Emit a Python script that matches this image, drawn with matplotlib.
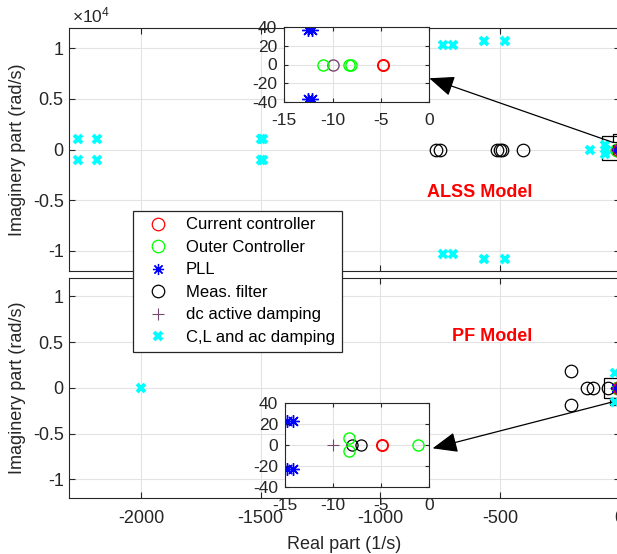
import matplotlib
matplotlib.use("Agg")
import matplotlib.pyplot as plt
from matplotlib.patches import Rectangle, ConnectionPatch
from matplotlib.lines import Line2D

plt.rcParams["font.family"] = ["Liberation Sans", "DejaVu Sans"]
plt.rcParams["axes.unicode_minus"] = False
plt.rcParams["mathtext.fontset"] = "custom"
plt.rcParams["mathtext.rm"] = "Liberation Sans"

# ---------------- eigenvalues, ALSS model (real 1/s, imag rad/s) ----------------
alss_cur_re = [-4.8]
alss_cur_im = [0.0]
alss_outer_re = [-11.0, -8.3, -8.1]
alss_outer_im = [0.0, 0.0, 0.0]
alss_pll_re = [-12.5, -12.5, -12.1, -12.1]
alss_pll_im = [37.5, -37.5, 37.5, -37.5]
alss_dc_re = [-10.0]
alss_dc_im = [0.0]
alss_meas_re = [-768, -751, -511, -501, -493, -404]
alss_meas_im = [0, 0, 0, 0, 0, 0]
alss_clac_re = [-2264, -2264, -2184, -2184, -1497, -1497, -1490, -1490,
                -738, -738, -698, -698, -565, -565, -480, -480,
                -122, -62, -62, -58]
alss_clac_im = [1040, -1040, 1040, -1040, 1080, -1080, 1030, -1030,
                10330, -10330, 10330, -10330, 10730, -10800, 10700, -10800,
                0, 450, -450, 0]

# ---------------- eigenvalues, PF model ----------------
pf_cur_re = [-4.9]
pf_cur_im = [0.0]
pf_outer_re = [-8.3, -8.3, -1.2]
pf_outer_im = [6.0, -6.0, 0.0]
pf_pll_re = [-14.8, -14.8, -14.2, -14.2]
pf_pll_im = [23.0, -23.0, 23.0, -23.0]
pf_dc_re = [-10.0]
pf_dc_im = [0.0]
pf_meas_re = [-8.0, -7.1, -205, -205, -138, -110, -48]
pf_meas_im = [0, 0, 1870, -1870, 0, 0, 0]
pf_clac_re = [-2000, -18, -18]
pf_clac_im = [0, 1600, -1600]

labels = ["Current controller", "Outer Controller", "PLL", "Meas. filter",
          "dc active damping", "C,L and ac damping"]

RED = "#ff0000"
GREEN = "#00ff00"
BLUE = "#0000ff"
BLACK = "#000000"
PURPLE = "#764a6e"
CYAN = "#00ffff"
AXC = "#262626"
GRIDC = "#e3e3e3"
ASTER = (8, 2, 0)

W, H = 617, 554
fig = plt.figure(figsize=(W / 100, H / 100), dpi=100)


def frac(x0, y0, x1, y1):
    return [x0 / W, 1 - y1 / H, (x1 - x0) / W, (y1 - y0) / H]


def style(ax, fs):
    ax.tick_params(direction="in", top=True, right=True, length=4,
                   labelsize=fs, colors=AXC, width=0.8)
    for s in ax.spines.values():
        s.set_color(AXC)
        s.set_linewidth(0.8)
    ax.grid(True, color=GRIDC, linewidth=0.8)
    ax.set_axisbelow(True)


def draw(ax, sets, yscale, big):
    ms_o = 9 if big else 8
    for re, im, kind in sets:
        y = [v * yscale for v in im]
        if kind == "cur":
            ax.plot(re, y, "o", ls="none", mfc="none", mec=RED, ms=ms_o,
                    mew=1.0 if big else 1.4)
        elif kind == "outer":
            ax.plot(re, y, "o", ls="none", mfc="none", mec=GREEN, ms=ms_o, mew=1.0)
        elif kind == "pll":
            ax.plot(re, y, marker=ASTER, ls="none", color=BLUE,
                    ms=8 if big else 9, mew=1.0)
        elif kind == "meas":
            ax.plot(re, y, "o", ls="none", mfc="none", mec=BLACK, ms=ms_o, mew=0.9)
        elif kind == "dc_o":
            ax.plot(re, y, "o", ls="none", mfc="none", mec=PURPLE, ms=ms_o, mew=1.0)
        elif kind == "dc":
            ax.plot(re, y, "+", ls="none", color=PURPLE, ms=9, mew=0.8)
        elif kind == "clac":
            ax.plot(re, y, "x", ls="none", color=CYAN, ms=6, mew=2.8)


alss_sets = [
    (alss_clac_re, alss_clac_im, "clac"),
    (alss_meas_re, alss_meas_im, "meas"),
    (alss_dc_re, alss_dc_im, "dc_o"),
    (alss_outer_re, alss_outer_im, "outer"),
    (alss_pll_re, alss_pll_im, "pll"),
    (alss_cur_re, alss_cur_im, "cur"),
]
pf_sets = [
    (pf_clac_re, pf_clac_im, "clac"),
    (pf_meas_re, pf_meas_im, "meas"),
    (pf_dc_re, pf_dc_im, "dc"),
    (pf_outer_re, pf_outer_im, "outer"),
    (pf_pll_re, pf_pll_im, "pll"),
    (pf_cur_re, pf_cur_im, "cur"),
]

xticks = [-2000, -1500, -1000, -500, 0]
yticks = [-1, -0.5, 0, 0.5, 1]
ytick_lbl = ["-1", "-0.5", "0", "0.5", "1"]

# ---------------- main axes ----------------
ax_pf = fig.add_axes(frac(69.2, 278, 619.7, 497.7))
ax_alss = fig.add_axes(frac(69.2, 28, 619.7, 271))

for ax in (ax_pf, ax_alss):
    style(ax, 13)
    ax.tick_params(axis="x", pad=9)
    ax.tick_params(axis="y", pad=4)
    ax.set_xlim(-2300, 0)
    ax.set_ylim(-1.2, 1.2)
    ax.set_xticks(xticks)
    ax.set_yticks(yticks)
    ax.set_yticklabels(ytick_lbl)
    ax.set_ylabel("Imaginery part (rad/s)", fontsize=13, color=AXC, labelpad=5)
    ax.text(0.005, 1.012, r"$\times\mathregular{10^4}$", transform=ax.transAxes,
            ha="left", va="bottom", fontsize=12.5, color=AXC)

ax_alss.set_xticklabels([])
ax_pf.set_xticklabels([str(v) for v in xticks])
ax_pf.set_xlabel("Real part (1/s)", fontsize=13, color=AXC, labelpad=6)

draw(ax_alss, alss_sets, 1e-4, True)
draw(ax_pf, pf_sets, 1e-4, True)

ax_alss.text(-586, -0.426, "ALSS Model", color=RED, fontsize=13,
             fontweight="bold", ha="center", va="center")
ax_pf.text(-531, 0.556, "PF Model", color=RED, fontsize=13,
           fontweight="bold", ha="center", va="center")

# zoom windows near the origin
ax_alss.add_patch(Rectangle((-75, -0.10), 80, 0.23, fill=False, ec=BLACK, lw=0.9))
ax_alss.add_patch(Rectangle((-28, 0.07), 40, 0.08, fill=False, ec=BLACK, lw=0.9))
ax_pf.add_patch(Rectangle((-64, -0.115), 70, 0.218, fill=False, ec=BLACK, lw=0.9))
ax_pf.add_patch(Rectangle((-40, -0.19), 50, 0.075, fill=False, ec=BLACK, lw=0.9))

# ---------------- insets ----------------
in_alss = fig.add_axes(frac(284.3, 27.3, 429.3, 101.7))
in_pf = fig.add_axes(frac(285.3, 402.7, 429.0, 486.7))
for ax in (in_alss, in_pf):
    style(ax, 12.5)
    ax.set_xlim(-15, 0)
    ax.set_ylim(-40, 40)
    ax.set_xticks([-15, -10, -5, 0])
    ax.set_yticks([-40, -20, 0, 20, 40])
    ax.tick_params(length=3)
    ax.tick_params(axis="x", pad=8)
    ax.tick_params(axis="y", pad=5)

draw(in_alss, alss_sets, 1.0, False)
draw(in_pf, pf_sets, 1.0, False)

# arrows from the zoom windows to the insets
for src, xy_src, dst, xy_dst in [
    (ax_alss, (-28, 0.07), in_alss, (1.0, 0.315)),
    (ax_pf, (-33, -0.156), in_pf, (1.025, 0.457)),
]:
    cp = ConnectionPatch(xyA=xy_src, coordsA=src.transData,
                         xyB=xy_dst, coordsB=dst.transAxes,
                         arrowstyle="-|>,head_length=1.1,head_width=0.45",
                         mutation_scale=14, color=BLACK, lw=0.9)
    fig.add_artist(cp)

# ---------------- legend ----------------
handles = [
    Line2D([], [], ls="none", marker="o", mfc="none", mec=RED, ms=9, mew=0.9),
    Line2D([], [], ls="none", marker="o", mfc="none", mec=GREEN, ms=9, mew=0.9),
    Line2D([], [], ls="none", marker=ASTER, color=BLUE, ms=8, mew=0.9),
    Line2D([], [], ls="none", marker="o", mfc="none", mec=BLACK, ms=9, mew=0.9),
    Line2D([], [], ls="none", marker="+", color=PURPLE, ms=9, mew=0.8),
    Line2D([], [], ls="none", marker="x", color=CYAN, ms=6, mew=2.8),
]
leg = fig.legend(handles, labels, loc="upper left",
                 bbox_to_anchor=(132.7 / W, 1 - 210.7 / H),
                 fontsize=12, frameon=True, fancybox=False, framealpha=1,
                 edgecolor=AXC, borderaxespad=0, borderpad=0.4,
                 handlelength=2.2, handletextpad=0.6, labelspacing=0.45)
leg.get_frame().set_linewidth(0.9)
for t in leg.get_texts():
    t.set_color(BLACK)

fig.savefig("out.png", dpi=100)
